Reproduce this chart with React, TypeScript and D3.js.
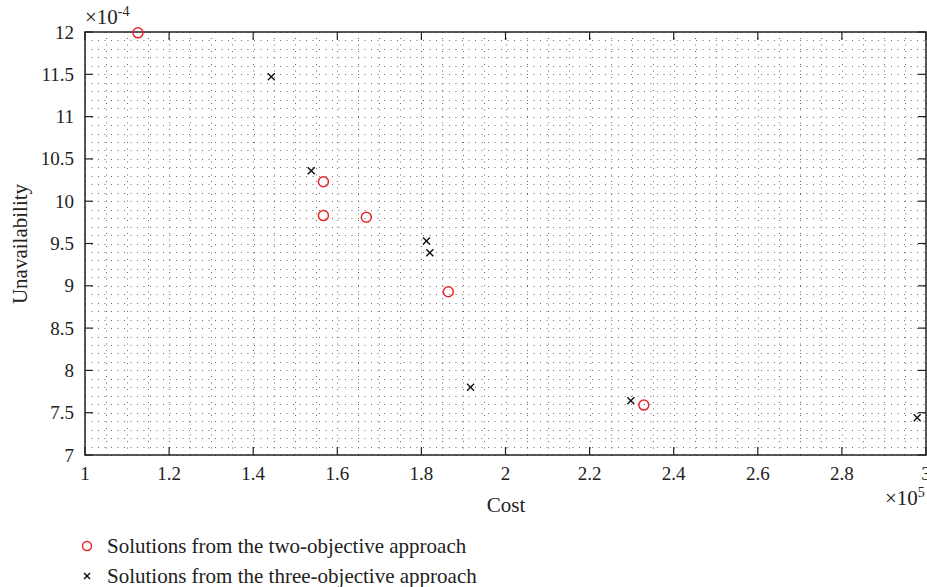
import React from "react";
import * as d3 from "d3";

const twoObjCost = [1.126, 1.567, 1.567, 1.669, 1.864, 2.329];
const twoObjUnavail = [11.99, 10.23, 9.83, 9.81, 8.93, 7.59];
const threeObjCost = [1.443, 1.538, 1.812, 1.82, 1.917, 2.298, 2.979];
const threeObjUnavail = [11.47, 10.36, 9.53, 9.39, 7.8, 7.64, 7.44];
const xTicks = [1, 1.2, 1.4, 1.6, 1.8, 2, 2.2, 2.4, 2.6, 2.8, 3];
const yTicks = [7, 7.5, 8, 8.5, 9, 9.5, 10, 10.5, 11, 11.5, 12];
const legendLabels = [
  "Solutions from the two-objective approach",
  "Solutions from the three-objective approach",
];

const W = 927;
const H = 587;
const L = 85, R = 926, T = 32, B = 455;
const FONT = "'Liberation Serif', 'Times New Roman', serif";

export default function App() {
  const x = d3.scaleLinear().domain([1, 3]).range([L, R]);
  const y = d3.scaleLinear().domain([7, 12]).range([B, T]);
  const xMinor = d3.range(0, 41).map((i) => 1 + i * 0.05);
  const yMinor = d3.range(0, 51).map((i) => 7 + i * 0.1);
  const fmt = (v: number) => (Math.round(v * 10) / 10).toString();
  const red = "#e8262a";
  const cross = (cx: number, cy: number, s: number, key: string) => (
    <g key={key} stroke="#111" strokeWidth={1.4}>
      <line x1={cx - s} y1={cy - s} x2={cx + s} y2={cy + s} />
      <line x1={cx - s} y1={cy + s} x2={cx + s} y2={cy - s} />
    </g>
  );
  return (
    <svg width={W} height={H} style={{ position: "absolute", left: 0, top: 0, background: "#fff" }} fontFamily={FONT}>
      <rect x={0} y={0} width={W} height={H} fill="#fff" />
      {/* grid */}
      <g stroke="#6a6a6a" strokeWidth={1} strokeDasharray="1,5.5">
        {xMinor.map((v, i) => (
          <line key={"gx" + i} x1={Math.round(x(v)) + 0.5} x2={Math.round(x(v)) + 0.5} y1={B} y2={T} />
        ))}
        {yMinor.map((v, i) => (
          <line key={"gy" + i} y1={Math.round(y(v)) + 0.5} y2={Math.round(y(v)) + 0.5} x1={L} x2={R} />
        ))}
      </g>
      {/* ticks */}
      <g stroke="#222" strokeWidth={1.2}>
        {xTicks.map((v, i) => (
          <g key={"xt" + i}>
            <line x1={x(v)} x2={x(v)} y1={B} y2={B - 8} />
            <line x1={x(v)} x2={x(v)} y1={T} y2={T + 8} />
          </g>
        ))}
        {yTicks.map((v, i) => (
          <g key={"yt" + i}>
            <line y1={y(v)} y2={y(v)} x1={L} x2={L + 8} />
            <line y1={y(v)} y2={y(v)} x1={R} x2={R - 8} />
          </g>
        ))}
      </g>
      <rect x={L} y={T} width={R - L} height={B - T} fill="none" stroke="#222" strokeWidth={1.5} />
      {/* tick labels */}
      <g fontSize={19} fill="#222">
        {xTicks.map((v, i) => (
          <text key={"xl" + i} x={x(v)} y={480} textAnchor="middle">{fmt(v)}</text>
        ))}
        {yTicks.map((v, i) => (
          <text key={"yl" + i} x={74} y={y(v) + 6.5} textAnchor="end">{fmt(v)}</text>
        ))}
      </g>
      <text x={85} y={24} fontSize={21} fill="#222">×10<tspan dy={-8} fontSize={14}>-4</tspan></text>
      <text x={885} y={505} fontSize={21} fill="#222">×10<tspan dy={-8} fontSize={14}>5</tspan></text>
      <text x={506} y={512} fontSize={21} fill="#222" textAnchor="middle">Cost</text>
      <text transform={`translate(27,${244}) rotate(-90)`} fontSize={21} fill="#222" textAnchor="middle">Unavailability</text>
      {/* data */}
      {twoObjCost.map((c, i) => (
        <circle key={"c" + i} cx={x(c)} cy={y(twoObjUnavail[i])} r={5} fill="none" stroke={red} strokeWidth={1.5} />
      ))}
      {threeObjCost.map((c, i) => cross(x(c), y(threeObjUnavail[i]), 3.5, "x" + i))}
      {/* legend */}
      <circle cx={87} cy={546} r={4.5} fill="none" stroke={red} strokeWidth={1.5} />
      <text x={107} y={553} fontSize={21} fill="#222">{legendLabels[0]}</text>
      {cross(87, 576, 3, "lx")}
      <text x={107} y={583} fontSize={21} fill="#222">{legendLabels[1]}</text>
    </svg>
  );
}
